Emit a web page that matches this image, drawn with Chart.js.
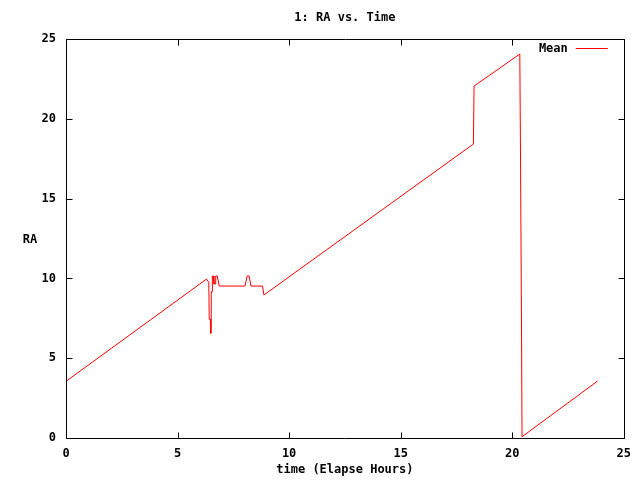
<!DOCTYPE html>
<html>
<head>
<meta charset="utf-8">
<script src="https://cdn.jsdelivr.net/npm/chart.js@4/dist/chart.umd.min.js"></script>
<style>
html,body{margin:0;padding:0;background:#fff;}
canvas{display:block;}
</style>
</head>
<body>
<canvas id="c" width="640" height="480"></canvas>
<script>
// Data
const timeHours = [0, 6.30, 6.40, 6.42, 6.47, 6.48, 6.50, 6.51, 6.55, 6.56, 6.60, 6.63, 6.68, 6.71, 6.78, 6.87,
  8.02, 8.12, 8.21, 8.29, 8.81, 8.87, 18.26, 18.29, 20.34, 20.37, 20.42, 20.44, 23.83];
const raMean = [3.55, 9.96, 9.75, 7.44, 7.44, 6.56, 6.56, 9.17, 9.17, 10.15, 10.15, 9.65, 9.65, 10.15, 10.15, 9.52,
  9.52, 10.15, 10.15, 9.52, 9.52, 8.96, 18.42, 22.05, 24.06, 18.05, 6.03, 0.08, 3.57];
const xTicks = [0, 5, 10, 15, 20, 25];
const yTicks = [0, 5, 10, 15, 20, 25];
const titleText = "1: RA vs. Time";
const xTitle = "time (Elapse Hours)";
const yTitle = "RA";
const seriesName = "Mean";

const FONT = "bold 12px 'DejaVu Sans Mono', monospace";
const points = timeHours.map((t, i) => ({x: t, y: raMean[i]}));

const framePlugin = {
  id: 'frame',
  afterDraw(chart) {
    const ctx = chart.ctx, a = chart.chartArea;
    const xs = chart.scales.x, ys = chart.scales.y;
    ctx.save();
    ctx.strokeStyle = '#000';
    ctx.lineWidth = 1;
    const L = Math.round(a.left) + 0.5, R = Math.round(a.right) + 0.5;
    const T = Math.round(a.top) + 0.5, B = Math.round(a.bottom) + 0.5;
    ctx.beginPath();
    ctx.rect(L, T, R - L, B - T);
    const tl = 6;
    xTicks.forEach(v => {
      const px = Math.round(xs.getPixelForValue(v)) + 0.5;
      ctx.moveTo(px, B); ctx.lineTo(px, B - tl);
      ctx.moveTo(px, T); ctx.lineTo(px, T + tl);
    });
    yTicks.forEach(v => {
      const py = Math.round(ys.getPixelForValue(v)) + 0.5;
      ctx.moveTo(L, py); ctx.lineTo(L + tl, py);
      ctx.moveTo(R, py); ctx.lineTo(R - tl, py);
    });
    ctx.stroke();

    ctx.fillStyle = '#000';
    ctx.font = FONT;
    ctx.textBaseline = 'middle';
    ctx.textAlign = 'center';
    const cx = (a.left + a.right) / 2;
    ctx.fillText(titleText, cx, 18);
    ctx.fillText(xTitle, cx, 470);
    ctx.fillText(yTitle, 30, 240);

    // legend
    ctx.textAlign = 'right';
    ctx.fillText(seriesName, a.right - 56, 49);
    ctx.strokeStyle = '#ff0000';
    ctx.beginPath();
    ctx.moveTo(a.right - 48, 48.5);
    ctx.lineTo(a.right - 16, 48.5);
    ctx.stroke();
    ctx.restore();
  }
};

new Chart(document.getElementById('c'), {
  type: 'line',
  data: {
    datasets: [{
      label: seriesName,
      data: points,
      borderColor: '#ff0000',
      borderWidth: 1,
      pointRadius: 0,
      tension: 0,
      fill: false
    }]
  },
  options: {
    responsive: false,
    animation: false,
    devicePixelRatio: 1,
    layout: {padding: {left: 0, right: 16, top: 39, bottom: 0}},
    plugins: {legend: {display: false}, title: {display: false}, tooltip: {enabled: false}},
    scales: {
      x: {
        type: 'linear', min: 0, max: 25,
        afterFit(s) { s.height = 42; },
        afterBuildTicks(s) { s.ticks = xTicks.map(v => ({value: v})); },
        grid: {display: false, drawTicks: false},
        border: {display: false},
        ticks: {color: '#000', font: {family: "'DejaVu Sans Mono', monospace", size: 12, weight: 'bold'}, padding: 9, maxRotation: 0}
      },
      y: {
        type: 'linear', min: 0, max: 25,
        afterFit(s) { s.width = 66; },
        afterBuildTicks(s) { s.ticks = yTicks.map(v => ({value: v})); },
        grid: {display: false, drawTicks: false},
        border: {display: false},
        ticks: {color: '#000', font: {family: "'DejaVu Sans Mono', monospace", size: 12, weight: 'bold'}, padding: 10}
      }
    }
  },
  plugins: [framePlugin]
});
</script>
</body>
</html>
